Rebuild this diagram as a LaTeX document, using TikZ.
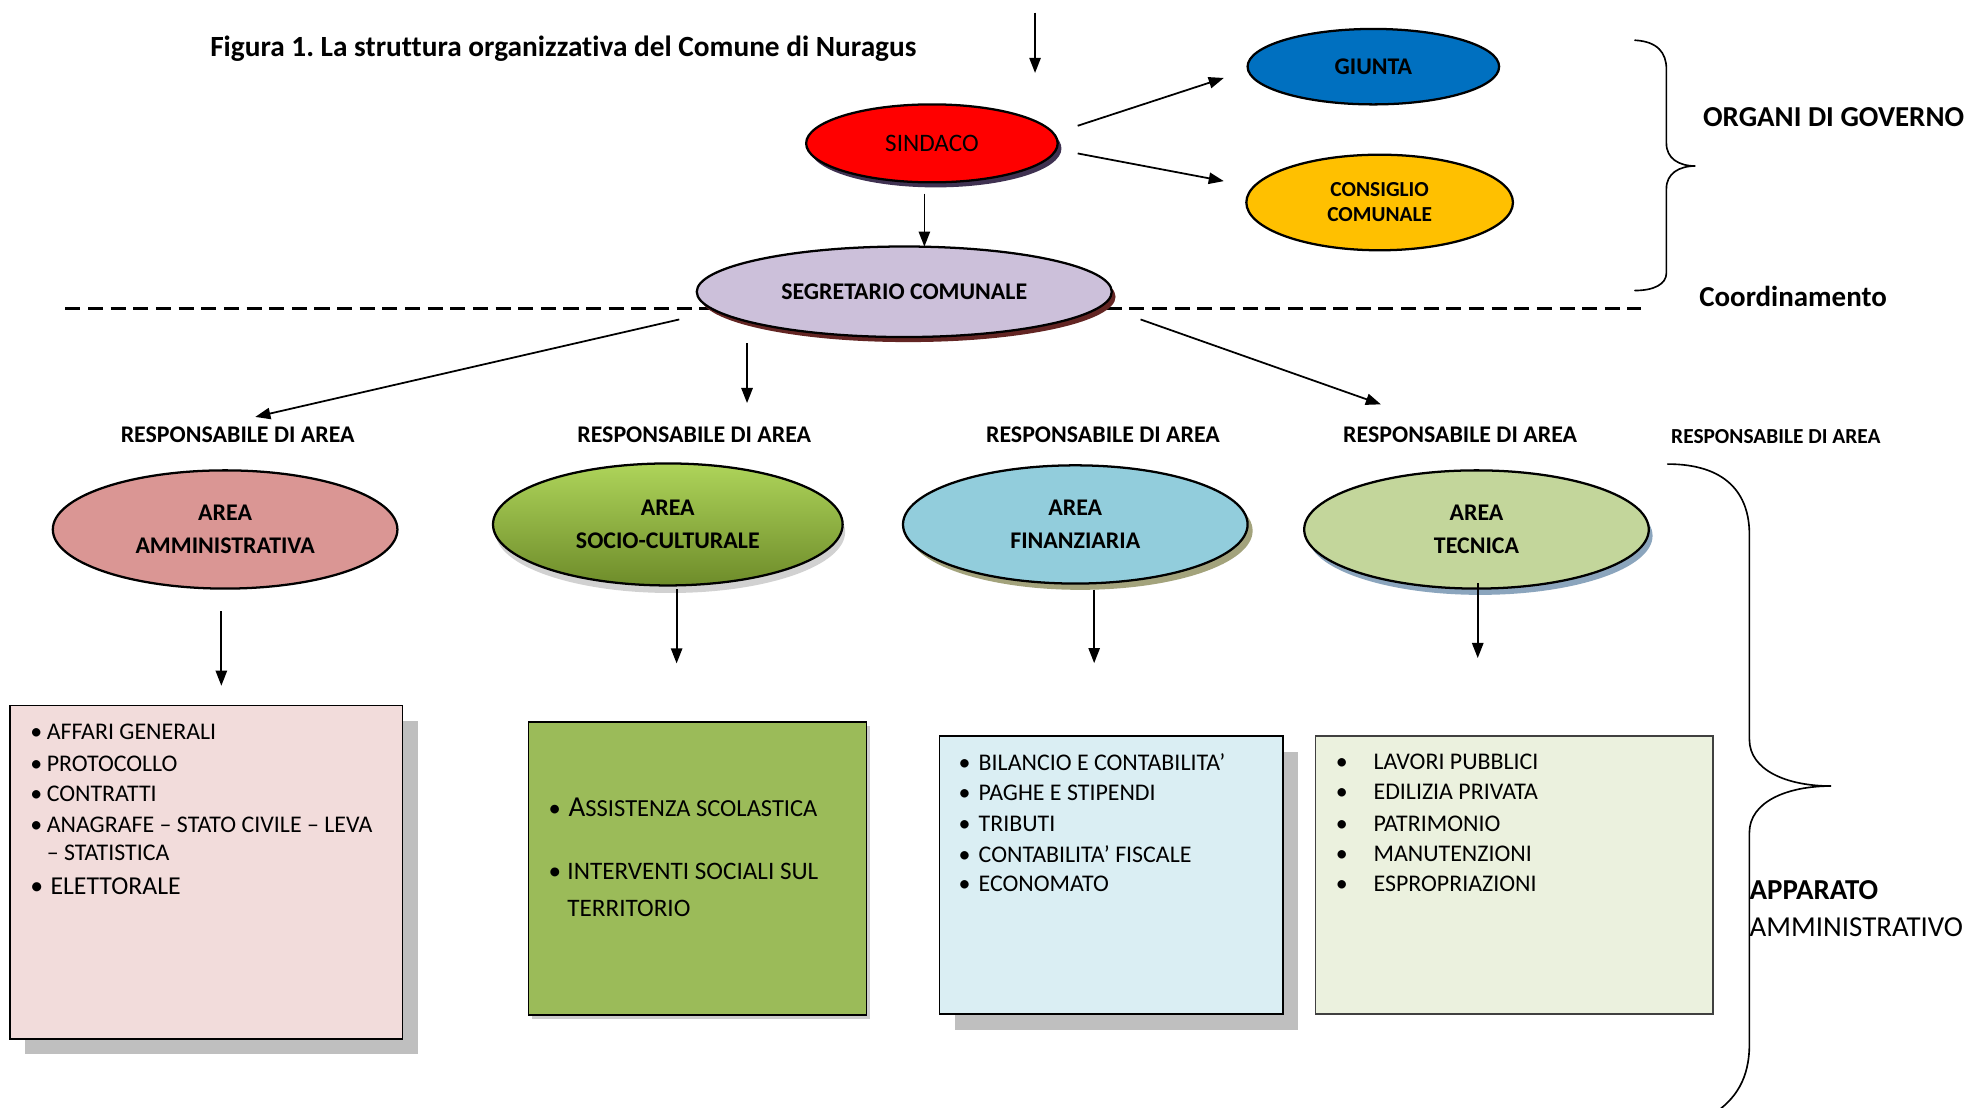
\documentclass[tikz,border=0pt]{standalone}
\usepackage{fontspec}
\setmainfont{Carlito}[Ligatures=NoCommon]
\usetikzlibrary{shapes.geometric,arrows.meta,shadows,calc}
\frenchspacing
\definecolor{sindshadow}{HTML}{3F3151}
\definecolor{segshadow}{HTML}{632523}
\definecolor{giuntac}{HTML}{0070C0}
\definecolor{consc}{HTML}{FFC000}
\definecolor{segc}{HTML}{CCC0DA}
\definecolor{ammc}{HTML}{DA9694}
\definecolor{soctop}{HTML}{AED45A}
\definecolor{socbot}{HTML}{6E8C2A}
\definecolor{finc}{HTML}{92CDDC}
\definecolor{finshadow}{HTML}{A3A37C}
\definecolor{tecc}{HTML}{C3D69B}
\definecolor{tecshadow}{HTML}{8BA5BD}
\definecolor{boxone}{HTML}{F2DCDB}
\definecolor{boxtwo}{HTML}{9BBB59}
\definecolor{boxthree}{HTML}{DAEEF3}
\definecolor{boxfour}{HTML}{EBF1DE}
\definecolor{greyshadow}{HTML}{BFBFBF}
\tikzset{
  arr/.style={-{Triangle[length=12pt,width=9pt]}, line width=1.4pt},
  ell/.style={ellipse, draw=black, line width=1.8pt, inner sep=0pt, align=center,
    font=\bfseries\fontsize{19}{26}\selectfont},
  resp/.style={inner sep=0pt, font=\bfseries\fontsize{19}{23}\selectfont},
  listitem/.style={anchor=west, inner sep=0pt, font=\fontsize{19}{23}\selectfont},
  areabox/.style={draw=black, line width=1.5pt, inner sep=0pt},
  side/.style={anchor=west, inner sep=0pt, font=\bfseries\fontsize{23}{28}\selectfont},
  bracket/.style={line width=1.3pt, line cap=round},
}
\newcommand{\bul}[2]{\makebox[#1][l]{\textbullet}#2}
\begin{document}
\begin{tikzpicture}[x=1pt,y=-1pt]
\fill[white] (0,0) rectangle (1568,881);
\useasboundingbox (0,0) rectangle (1568,881);

% title
\node[anchor=west, inner sep=0pt, font=\bfseries\fontsize{23.3}{28}\selectfont] (title) at (167,39)
  {Figura 1. La struttura organizzativa del Comune di Nuragus};

% dashed separator
\coordinate (dl) at (52,245);
\coordinate (dr) at (1305,245);
\draw[line width=2.5pt, dash pattern=on 12pt off 6pt] (dl) -- (dr);

% top organs
\node[ell, fill=red, minimum width=200pt, minimum height=62pt,
  font=\fontsize{20}{24}\selectfont,
  drop shadow={shadow xshift=3pt, shadow yshift=-4pt, fill=sindshadow, opacity=1}]
  (sind) at (741,114) {SINDACO};
\node[ell, fill=giuntac, minimum width=200pt, minimum height=60pt] (giunta) at (1092,53) {GIUNTA};
\node[ell, fill=consc, minimum width=212pt, minimum height=76pt,
  font=\bfseries\fontsize{17}{20}\selectfont] (cons) at (1097,161) {CONSIGLIO\\COMUNALE};
\node[ell, fill=segc, minimum width=330pt, minimum height=72pt,
  drop shadow={shadow xshift=3pt, shadow yshift=-4pt, fill=segshadow, opacity=1}]
  (seg) at (719,232) {SEGRETARIO COMUNALE};

% top arrow
\coordinate (topA) at (823,10);
\coordinate (topB) at (823,58);
\draw[arr] (topA) -- (topB);

\draw[arr] ($(sind.east)+(15,-14)$) -- ($(giunta.west)+(-18,9)$);
\draw[arr] ($(sind.east)+(15,8)$) -- ($(cons.west)+(-17,-17)$);
\draw[arr] ($(sind.south)+(-6,8)$) -- ($(seg.north)+(16,1)$);

% right labels and braces
\node[side] (organi) at (1354,93) {ORGANI DI GOVERNO};
\node[side] (coord) at (1351,236) {Coordinamento};
\draw[bracket] (1300,32) .. controls (1318,33) and (1325,42) .. (1325,55)
  -- (1325,114) .. controls (1325,126) and (1335,132) .. (1348,132)
  .. controls (1335,132) and (1325,138) .. (1325,150)
  -- (1325,217) .. controls (1325,226) and (1315,231) .. (1300,231);

\node[side] (app) at (1391,708) {APPARATO};
\node[side, font=\fontsize{23}{28}\selectfont] (amm2) at (1391,737) {AMMINISTRATIVO};
\draw[bracket] (1326,369) .. controls (1372,369) and (1391,392) .. (1391,425)
  -- (1391,588) .. controls (1391,612) and (1420,625) .. (1456,625)
  .. controls (1420,625) and (1391,638) .. (1391,662)
  -- (1391,830) .. controls (1391,858) and (1380,874) .. (1362,886);

% responsabili
\node[resp] (r1) at (189,346) {RESPONSABILE DI AREA};
\node[resp] (r2) at (552,346) {RESPONSABILE DI AREA};
\node[resp] (r3) at (877,346) {RESPONSABILE DI AREA};
\node[resp] (r4) at (1161,346) {RESPONSABILE DI AREA};
\node[resp, font=\bfseries\fontsize{17}{20}\selectfont] (r5) at (1412,347) {RESPONSABILE DI AREA};

\draw[arr] ($(seg.west)+(-13,22)$) -- ($(r1.north)+(14,-8)$);
\draw[arr] ($(seg.south)+(-125,4)$) -- ($(r2.north)+(42,-19)$);
\draw[arr] ($(seg.east)+(22,22)$) -- ($(r4.north)+(-63,-18)$);

% areas
\node[ell, fill=ammc, minimum width=274pt, minimum height=94pt] (amm) at (179,421) {AREA\\AMMINISTRATIVA};
\node[ell, top color=soctop, bottom color=socbot, minimum width=278pt, minimum height=97pt,
  drop shadow={shadow xshift=2pt, shadow yshift=-6pt, fill=black, opacity=0.18}]
  (soc) at (531,417) {AREA\\SOCIO-CULTURALE};
\node[ell, fill=finc, minimum width=274pt, minimum height=94pt,
  drop shadow={shadow xshift=4pt, shadow yshift=-5pt, fill=finshadow, opacity=1}]
  (fin) at (855,417) {AREA\\FINANZIARIA};
\node[ell, fill=tecc, minimum width=274pt, minimum height=94pt,
  drop shadow={shadow xshift=3pt, shadow yshift=-5pt, fill=tecshadow, opacity=1}]
  (tec) at (1174,421) {AREA\\TECNICA};

% boxes
\node[areabox, fill=boxone, minimum width=312pt, minimum height=265pt,
  drop shadow={shadow xshift=12pt, shadow yshift=-12pt, fill=greyshadow, opacity=1}]
  (b1) at (164,693.5) {};
\node[areabox, line width=1pt, fill=boxtwo, minimum width=269pt, minimum height=233pt,
  drop shadow={shadow xshift=3pt, shadow yshift=-3pt, fill=black, opacity=0.2}]
  (b2) at (554.5,690.5) {};
\node[areabox, fill=boxthree, minimum width=273pt, minimum height=221pt,
  drop shadow={shadow xshift=12pt, shadow yshift=-13pt, fill=greyshadow, opacity=1}]
  (b3) at (883.5,695.5) {};
\node[areabox, draw=black!75, fill=boxfour, minimum width=316pt, minimum height=221pt]
  (b4) at (1204,695.5) {};

\draw[arr] ($(amm.south)+(-3,17)$) -- ($(b1.north)+(12,-15)$);
\draw[arr] ($(soc.south)+(7,2)$) -- ($(b2.north)+(-16.5,-46)$);
\draw[arr] ($(fin.south)+(15,4)$) -- ($(b3.north)+(-13.5,-57)$);
\draw[arr] ($(tec.south)+(1,-5)$) -- ($(b4.north)+(-29,-61)$);

% box 1 items
\node[listitem] (i11) at (24,582) {\bul{13pt}{AFFARI GENERALI}};
\node[listitem] (i12) at (24,607) {\bul{13pt}{PROTOCOLLO}};
\node[listitem] (i13) at (24,631) {\bul{13pt}{CONTRATTI}};
\node[listitem] (i14) at (24,656) {\bul{13pt}{ANAGRAFE – STATO CIVILE – LEVA}};
\node[listitem] (i15) at (37,678) {– STATISTICA};
\node[listitem, font=\fontsize{20.5}{24}\selectfont] (i16) at (24,705) {\bul{16pt}{ELETTORALE}};

% box 2 items
\node[listitem, font=\fontsize{19.5}{24}\selectfont] (i21) at (436,642)
  {\bul{16pt}{{\fontsize{23}{26}\selectfont A}SSISTENZA SCOLASTICA}};
\node[listitem, font=\fontsize{20}{24}\selectfont] (i22) at (436,693) {\bul{15pt}{INTERVENTI SOCIALI SUL}};
\node[listitem, font=\fontsize{20}{24}\selectfont] (i23) at (451,722) {TERRITORIO};

% box 3 items
\node[listitem] (i31) at (762,606) {\bul{16pt}{BILANCIO E CONTABILITA’}};
\node[listitem] (i32) at (762,630) {\bul{16pt}{PAGHE E STIPENDI}};
\node[listitem] (i33) at (762,655) {\bul{16pt}{TRIBUTI}};
\node[listitem] (i34) at (762,679) {\bul{16pt}{CONTABILITA’ FISCALE}};
\node[listitem] (i35) at (762,703) {\bul{16pt}{ECONOMATO}};

% box 4 items
\node[listitem] (i41) at (1062,606) {\bul{30pt}{LAVORI PUBBLICI}};
\node[listitem] (i42) at (1062,630) {\bul{30pt}{EDILIZIA PRIVATA}};
\node[listitem] (i43) at (1062,655) {\bul{30pt}{PATRIMONIO}};
\node[listitem] (i44) at (1062,679) {\bul{30pt}{MANUTENZIONI}};
\node[listitem] (i45) at (1062,703) {\bul{30pt}{ESPROPRIAZIONI}};
\end{tikzpicture}
\end{document}
